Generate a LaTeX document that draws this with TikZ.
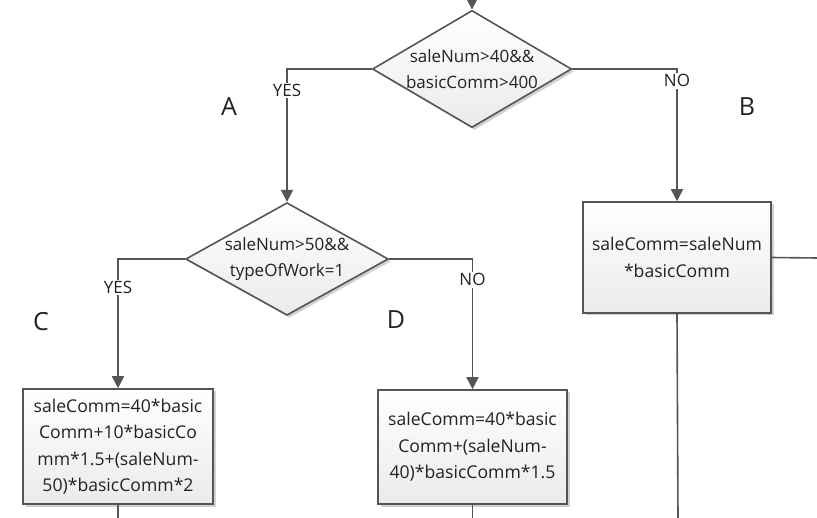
\documentclass[tikz,border=0pt]{standalone}
\usepackage{fontspec}
\setmainfont{Open Sans}
\usepackage{xcolor}
\usepackage{tikz}
\usetikzlibrary{shapes.geometric,arrows.meta,shadows}
\definecolor{edge}{HTML}{555555}
\definecolor{ink}{HTML}{222222}

\begin{document}
\begin{tikzpicture}[
    x=1pt,y=-1pt,
    shade/.style={top color=white,bottom color=black!8,draw=edge,line width=1.6pt,
      drop shadow={shadow xshift=2.5pt,shadow yshift=-2.5pt,fill=black!30,opacity=0.6}},
    cond/.style={shade,diamond,inner sep=0pt,align=center,text=ink,
      font=\fontsize{17}{26.5}\selectfont},
    calc/.style={shade,rectangle,inner sep=0pt,align=center,text=ink,
      font=\fontsize{17.6}{26.5}\selectfont},
    lbl/.style={fill=white,inner sep=1.5pt,text=ink,font=\fontsize{17}{18}\selectfont},
    tag/.style={text=ink,font=\fontsize{25}{28}\selectfont},
    arrow/.style={-{Triangle[length=12pt,width=12pt]},draw=edge,line width=1.6pt},
    line/.style={draw=edge,line width=1.6pt}
  ]
    \useasboundingbox (0,0) rectangle (817,518);

    % Decisions
    \node[cond,aspect=1.7,minimum width=195,minimum height=114] (cond1) at (472,69)
      {saleNum>40\&\&\\basicComm>400};
    \node[cond,aspect=1.8,minimum width=199,minimum height=110] (cond2) at (287,259)
      {saleNum>50\&\&\\typeOfWork=1};

    % Calculations
    \node[calc,minimum width=188,minimum height=111] (calcB) at (677,257.5)
      {saleComm=saleNum\\*basicComm};
    \node[calc,minimum width=190,minimum height=115] (calcC) at (118,446.5)
      {saleComm=40*basic\\Comm+10*basicCo\\mm*1.5+(saleNum-\\50)*basicComm*2};
    \node[calc,minimum width=189,minimum height=114] (calcD) at (472.5,447)
      {saleComm=40*basic\\Comm+(saleNum-\\40)*basicComm*1.5};

    % Branch tags
    \node[tag] (tagA) at (229,107) {A};
    \node[tag] (tagB) at (747,107) {B};
    \node[tag] (tagC) at (41,322) {C};
    \node[tag] (tagD) at (396,320) {D};

    % Free ends
    \coordinate (in)   at (472,-2);
    \coordinate (outB) at (817,258);
    \coordinate (endB) at (678,518);
    \coordinate (endC) at (118,518);
    \coordinate (endD) at (472.5,518);

    % Arrows
    \draw[arrow] (in) -- (cond1.north);
    \draw[arrow] (cond1.west) -| (cond2.north) node[lbl,pos=0.58] {YES};
    \draw[arrow] (cond1.east) -| (calcB.north) node[lbl,pos=0.545] {NO};
    \draw[arrow] (cond2.west) -| (calcC.north) node[lbl,pos=0.61] {YES};
    \draw[arrow] (cond2.east) -| (calcD.north) node[lbl,pos=0.58] {NO};
    \draw[line] (calcB.east) -- (outB);
    \draw[line] (calcB.south) -- (endB);
    \draw[line] (calcC.south) -- (endC);
    \draw[line] (calcD.south) -- (endD);
  \end{tikzpicture}
\end{document}
